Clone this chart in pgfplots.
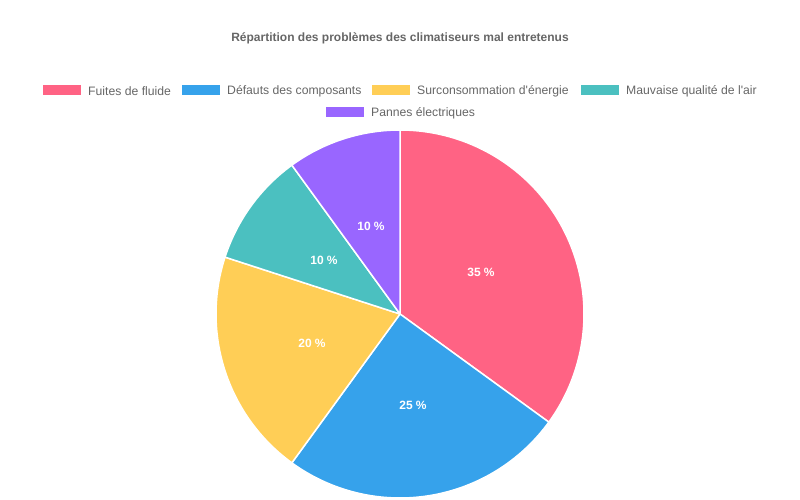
\documentclass[border=0pt]{standalone}
\usepackage{fontspec}
\setmainfont{Liberation Sans}
\usepackage{pgfplots}
\pgfplotsset{compat=1.18}
\definecolor{c1}{HTML}{FF6384}
\definecolor{c2}{HTML}{36A2EB}
\definecolor{c3}{HTML}{FFCE56}
\definecolor{c4}{HTML}{4BC0C0}
\definecolor{c5}{HTML}{9966FF}
\definecolor{txt}{HTML}{666666}
\begin{document}
\begin{tikzpicture}[x=1pt,y=1pt]
\begin{axis}[
  width=800pt, height=500pt, scale only axis,
  xmin=0, xmax=800, ymin=0, ymax=500,
  hide axis, clip=false,
]
\path (rel axis cs:0,0) rectangle (rel axis cs:1,1);
% Pie: values 35, 25, 20, 10, 10 (%), start at 90 deg, clockwise
% angles: 90 -> -36 -> -126 -> -198 -> -234 -> -270
\addplot[fill=c1, draw=white, line width=1.5pt, domain=90:-36, samples=90, line join=round]
  ({400+184*cos(x)},{186+184*sin(x)}) -- (axis cs:400,186) -- cycle;
\addplot[fill=c2, draw=white, line width=1.5pt, domain=-36:-126, samples=70, line join=round]
  ({400+184*cos(x)},{186+184*sin(x)}) -- (axis cs:400,186) -- cycle;
\addplot[fill=c3, draw=white, line width=1.5pt, domain=-126:-198, samples=60, line join=round]
  ({400+184*cos(x)},{186+184*sin(x)}) -- (axis cs:400,186) -- cycle;
\addplot[fill=c4, draw=white, line width=1.5pt, domain=-198:-234, samples=30, line join=round]
  ({400+184*cos(x)},{186+184*sin(x)}) -- (axis cs:400,186) -- cycle;
\addplot[fill=c5, draw=white, line width=1.5pt, domain=-234:-270, samples=30, line join=round]
  ({400+184*cos(x)},{186+184*sin(x)}) -- (axis cs:400,186) -- cycle;

% slice labels
\begin{scope}[every node/.style={text=white, font=\fontsize{12}{14}\selectfont\bfseries}]
\node at (axis cs:481,228) {35 \%};
\node at (axis cs:413,95) {25 \%};
\node at (axis cs:312,157) {20 \%};
\node at (axis cs:324,240) {10 \%};
\node at (axis cs:371,274) {10 \%};
\end{scope}

% title
\node[text=txt, font=\fontsize{12}{14}\selectfont\bfseries] at (axis cs:400,462) {Répartition des problèmes des climatiseurs mal entretenus};

% legend
\begin{scope}[every node/.style={text=txt, anchor=west, inner sep=0pt, font=\fontsize{12.2}{14}\selectfont}]
\fill[c1] (axis cs:43,405) rectangle (axis cs:81,415);
\node at (axis cs:88,409) {Fuites de fluide};
\fill[c2] (axis cs:182,405) rectangle (axis cs:220,415);
\node at (axis cs:227,409) {Défauts des composants};
\fill[c3] (axis cs:372,405) rectangle (axis cs:410,415);
\node at (axis cs:417,409) {Surconsommation d\textquotesingle énergie};
\fill[c4] (axis cs:581,405) rectangle (axis cs:619,415);
\node at (axis cs:626,409) {Mauvaise qualité de l\textquotesingle air};
\fill[c5] (axis cs:326,383) rectangle (axis cs:364,393);
\node at (axis cs:371,387) {Pannes électriques};
\end{scope}
\end{axis}
\end{tikzpicture}
\end{document}
